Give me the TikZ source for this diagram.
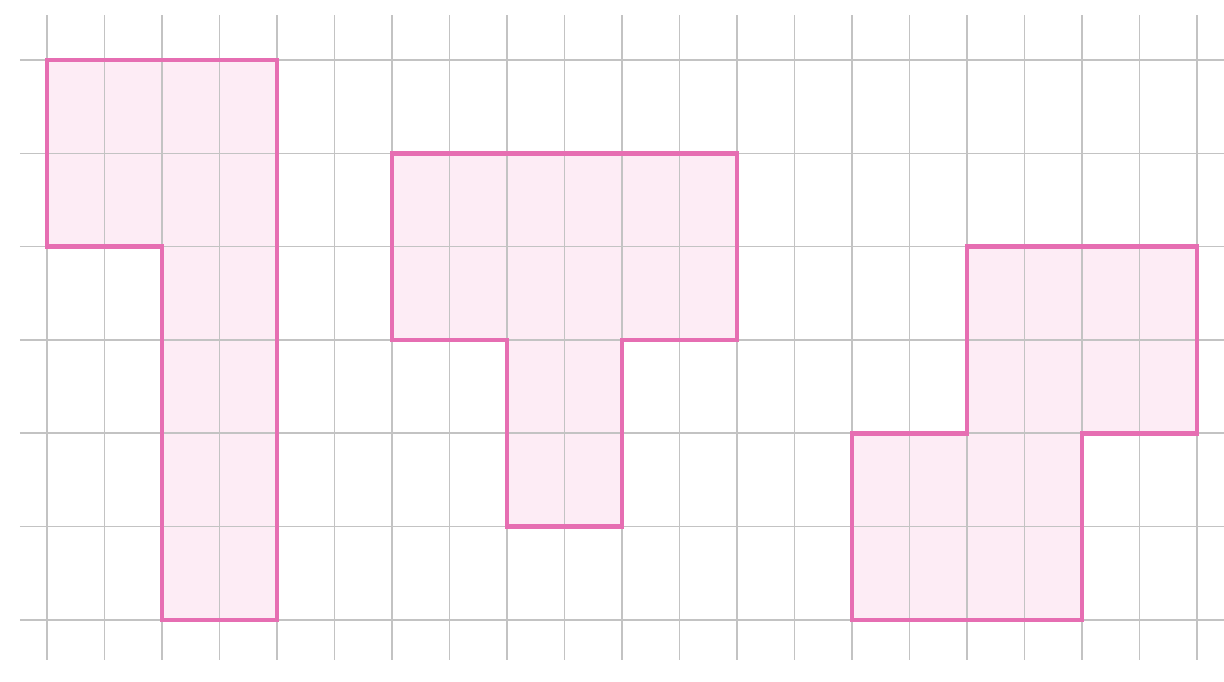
\documentclass[tikz,border=0pt]{standalone}
\definecolor{gridgray}{RGB}{195,195,195}
\definecolor{pinkline}{RGB}{230,110,178}
\definecolor{pinkfill}{RGB}{253,236,245}
\tikzset{
  figfill/.style={fill=pinkfill, draw=none},
  figline/.style={draw=pinkline, line width=2.2pt, line join=miter},
}
\begin{document}
\begin{tikzpicture}[x=1cm, y=-1.623cm]
	\useasboundingbox (-0.817,-0.643) rectangle (20.47,6.656);
	% fills under the grid
	\fill[figfill] (0,0) -- (4,0) -- (4,6) -- (2,6) -- (2,2) -- (0,2) -- cycle;
	\fill[figfill] (6,1) -- (12,1) -- (12,3) -- (10,3) -- (10,5) -- (8,5) -- (8,3) -- (6,3) -- cycle;
	\fill[figfill] (16,2) -- (20,2) -- (20,4) -- (18,4) -- (18,6) -- (14,6) -- (14,4) -- (16,4) -- cycle;
	
	% grid
	\foreach \x in {0,...,20}
	\draw[gridgray, line width=0.8pt] (\x,-0.48) -- (\x,6.43);
	\foreach \y in {0,...,6}
	\draw[gridgray, line width=0.8pt] (-0.47,\y) -- (20.47,\y);
	
	% outlines
	\draw[figline] (0,0) -- (4,0) -- (4,6) -- (2,6) -- (2,2) -- (0,2) -- cycle;
	\draw[figline] (6,1) -- (12,1) -- (12,3) -- (10,3) -- (10,5) -- (8,5) -- (8,3) -- (6,3) -- cycle;
	\draw[figline] (16,2) -- (20,2) -- (20,4) -- (18,4) -- (18,6) -- (14,6) -- (14,4) -- (16,4) -- cycle;
\end{tikzpicture}
\end{document}
